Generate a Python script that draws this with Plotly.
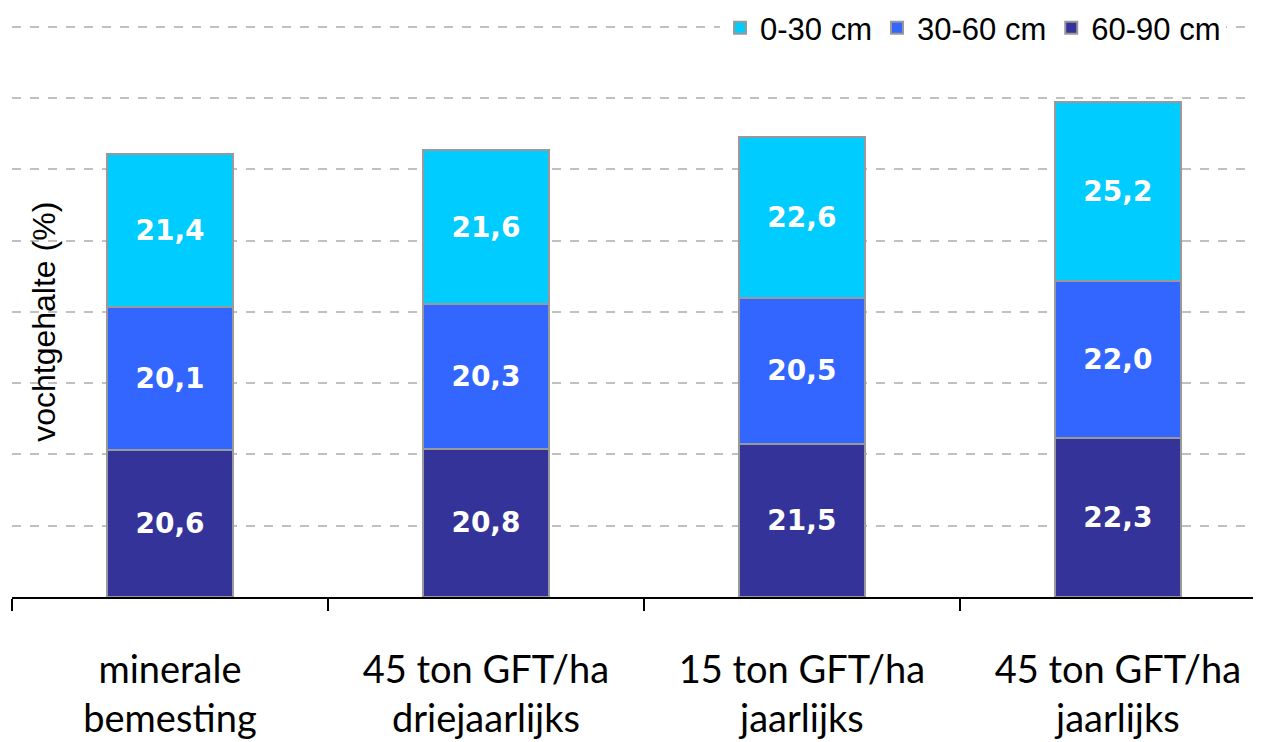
import plotly.graph_objects as go

categories = ["minerale<br>bemesting", "45 ton GFT/ha<br>driejaarlijks",
              "15 ton GFT/ha<br>jaarlijks", "45 ton GFT/ha<br>jaarlijks"]
layer_60_90 = [20.6, 20.8, 21.5, 22.3]
layer_30_60 = [20.1, 20.3, 20.5, 22.0]
layer_0_30 = [21.4, 21.6, 22.6, 25.2]
series_names = ["60-90 cm", "30-60 cm", "0-30 cm"]
series_colors = ["#333399", "#3366FF", "#00CCFF"]
y_title = "vochtgehalte (%)"

fig = go.Figure()
for name, vals, col in zip(series_names, [layer_60_90, layer_30_60, layer_0_30], series_colors):
    fig.add_trace(go.Bar(
        x=categories, y=vals, name=name,
        marker=dict(color=col, line=dict(color="#999999", width=2)),
        width=0.4,
        texttemplate="%{y:.1f}", textposition="inside", insidetextanchor="middle",
        textfont=dict(family="DejaVu Sans", size=28, color="white", weight="bold"),
        textangle=0,
    ))

fig.update_layout(
    barmode="stack",
    separators=",.",
    width=1253, height=734,
    margin=dict(l=4, r=0, t=16, b=145, autoexpand=False),
    plot_bgcolor="white", paper_bgcolor="white",
    showlegend=True,
    legend=dict(orientation="h", x=0.972, xanchor="right", y=0.993, yanchor="middle",
                traceorder="reversed", bgcolor="white",
                font=dict(family="Liberation Sans", size=31, color="black"),
                itemwidth=30, tracegroupgap=0),
    bargap=0.6,
)
fig.update_xaxes(
    range=[-0.5, 3.453], showline=True, linecolor="black", linewidth=2,
    ticks="outside", tickson="boundaries", ticklen=12, tickwidth=2, tickcolor="black",
    tickfont=dict(family="Lato", size=38, color="black"),
    ticklabelstandoff=38, showgrid=False,
)
fig.update_yaxes(
    range=[0, 80.4], dtick=10, showticklabels=False, showgrid=True,
    gridcolor="#C0C0C0", griddash="dash", gridwidth=1.5, zeroline=False, ticks="",
)
fig.add_annotation(text=y_title, xref="paper", yref="paper", x=0.0255, y=0.48,
                   textangle=-90, showarrow=False, xanchor="center", yanchor="middle",
                   font=dict(family="Liberation Sans", size=32, color="black"))

fig.write_html("out.html")
